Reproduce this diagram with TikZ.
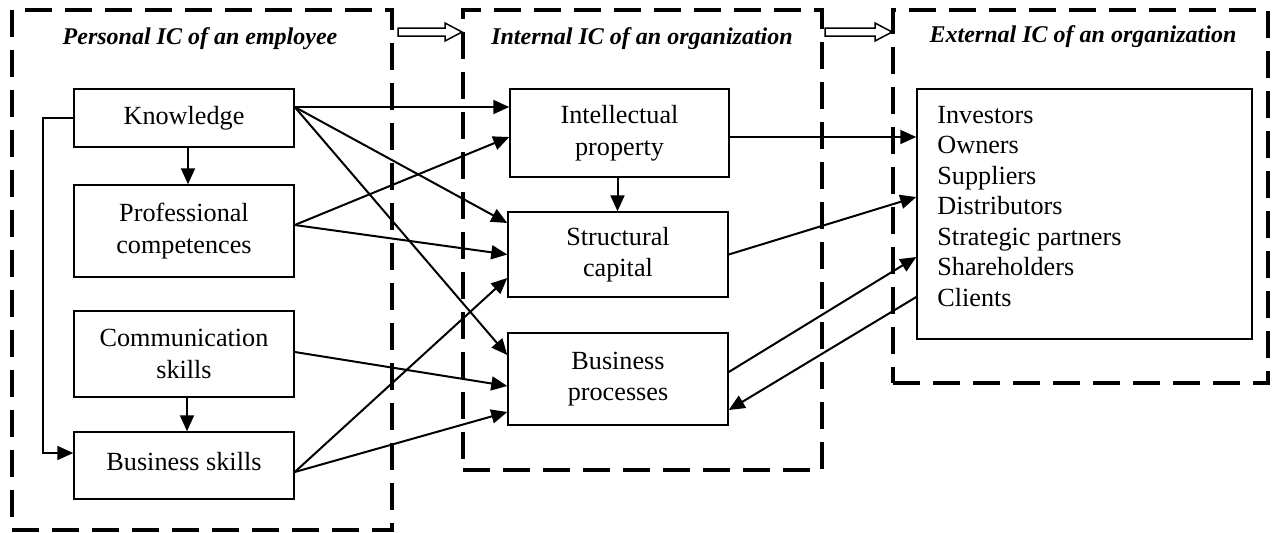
\documentclass[tikz,border=0pt]{standalone}
\usepackage{fontspec}
\setmainfont{Liberation Serif}
\usetikzlibrary{arrows.meta}
\tikzset{
  frame/.style={draw, line width=1.9pt, dash pattern=on 13.5pt off 6.5pt, inner sep=0pt},
  box/.style={draw, line width=0.75pt, align=center, inner sep=0pt, font=\fontsize{13.1}{15.8}\selectfont},
  ttl/.style={font=\fontsize{12}{14}\selectfont\bfseries\itshape},
  item/.style={anchor=base west, inner sep=0pt, font=\fontsize{13.1}{15.3}\selectfont},
  arr/.style={line width=1pt, -{Triangle[length=8pt,width=7pt]}},
  hollow/.style={line width=0.75pt, fill=white},
}
\begin{document}
\begin{tikzpicture}[x=0.5pt,y=-0.5pt]
\useasboundingbox (0,0) rectangle (1272,532);
% frames
\node[frame, minimum width=190pt, minimum height=260pt] (FP) at (202,270) {};
\node[frame, minimum width=179.5pt, minimum height=230pt] (FI) at (642.5,240) {};
\node[frame, minimum width=187.5pt, minimum height=186.5pt] (FE) at (1080.5,196.5) {};
% titles
\node[ttl] (tP) at (200,39) {Personal IC of an employee};
\node[ttl] (tI) at (642,39) {Internal IC of an organization};
\node[ttl] (tE) at (1083,37) {External IC of an organization};
% hollow arrows
\draw[hollow] (398,28) -- (445,28) -- (445,23) -- (462,32) -- (445,41) -- (445,36) -- (398,36) -- cycle;
\draw[hollow] (825,28) -- (875,28) -- (875,23) -- (892,32) -- (875,41) -- (875,36) -- (825,36) -- cycle;
% left boxes
\node[box, minimum width=110pt, minimum height=29pt] (K) at (184,118) {Knowledge};
\node[box, minimum width=110pt, minimum height=46pt] (P) at (184,231) {Professional\\competences};
\node[box, minimum width=110pt, minimum height=43pt] (C) at (184,354) {Communication\\skills};
\node[box, minimum width=110pt, minimum height=33.5pt, text depth=4pt] (B) at (184,465.5) {Business skills};
% middle boxes
\node[box, minimum width=109.5pt, minimum height=44pt] (IP) at (619.5,133) {Intellectual\\property};
\node[box, minimum width=110pt, minimum height=42.5pt] (S) at (618,254.5) {Structural\\capital};
\node[box, minimum width=110pt, minimum height=46pt] (BP) at (618,379) {Business\\processes};
% right box
\node[box, minimum width=167.5pt, minimum height=125pt] (E) at (1084.5,214) {};
\node[item] (e1) at (937,123) {Investors};
\node[item] (e2) at (937,153.5) {Owners};
\node[item] (e3) at (937,184) {Suppliers};
\node[item] (e4) at (937,214.5) {Distributors};
\node[item] (e5) at (937,245) {Strategic partners};
\node[item] (e6) at (937,275.5) {Shareholders};
\node[item] (e7) at (937,306) {Clients};
% connectors
\draw[arr] ([yshift=5.5pt]K.east) -- ([yshift=13pt]IP.west);
\draw[arr] ([yshift=5.5pt]K.east) -- ([yshift=15.75pt]S.west);
\draw[arr] ([yshift=5.5pt]K.east) -- ([yshift=12pt]BP.west);
\draw[arr] ([yshift=3pt]P.east) -- ([yshift=-2pt]IP.west);
\draw[arr] ([yshift=3pt]P.east) -- (S.west);
\draw[arr] ([yshift=1pt]C.east) -- ([yshift=-3.5pt]BP.west);
\draw[arr] ([yshift=-3.25pt]B.east) -- ([yshift=-11.75pt]S.west);
\draw[arr] ([yshift=-3.25pt]B.east) -- ([yshift=-16.5pt]BP.west);
\draw[arr] ([xshift=2pt]K.south) -- ([xshift=2pt]P.north);
\draw[arr] ([xshift=1.5pt]C.south) -- ([xshift=1.5pt]B.north);
\draw[arr] ([xshift=-1pt]IP.south) -- ([xshift=-1pt]IP.south |- S.north);
\draw[arr] ([yshift=-2pt]IP.east) -- ([yshift=-2pt]IP.east -| E.west);
\draw[arr] (S.east) -- ([yshift=8.5pt]E.west);
\draw[arr] ([yshift=3.5pt]BP.east) -- ([yshift=-21.5pt]E.west);
\draw[arr] ([yshift=-41.5pt]E.west) -- ([yshift=-15.5pt]BP.east);
\draw[arr] (K.west) -- ++(-15pt,0) |- ([yshift=6.25pt]B.west);
\end{tikzpicture}
\end{document}
